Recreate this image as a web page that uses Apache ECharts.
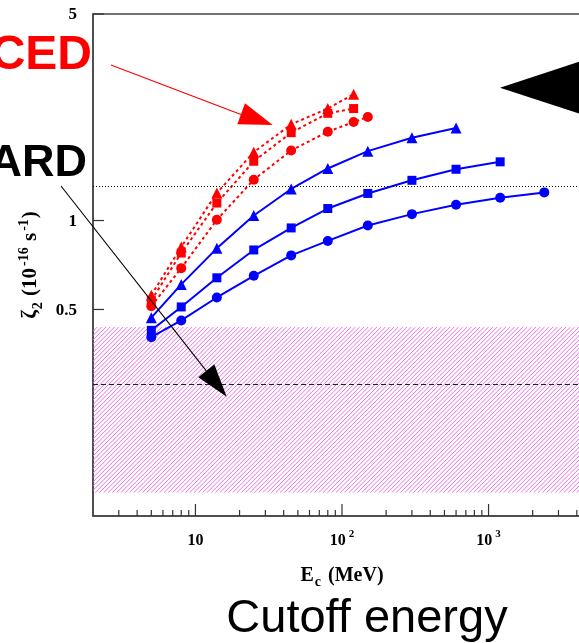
<!DOCTYPE html>
<html><head><meta charset="utf-8">
<script src="https://cdn.jsdelivr.net/npm/echarts@6/dist/echarts.min.js"></script>
<style>html,body{margin:0;padding:0;background:#fff;}#c{width:579px;height:643px;}</style>
</head><body><div id="c"></div>
<script>
// ---- data ----
const xBlue = [5, 8, 14, 25, 45, 80, 150, 300, 600, 1200, 2400];
const blueCircle = [0.403, 0.459, 0.549, 0.650, 0.762, 0.853, 0.962, 1.051, 1.131, 1.195, 1.245];
const blueSquare = [0.425, 0.510, 0.640, 0.795, 0.944, 1.098, 1.235, 1.368, 1.491, 1.58];
const blueTriangle = [0.469, 0.608, 0.805, 1.04, 1.279, 1.50, 1.717, 1.906, 2.055];
const xRed = [5, 8, 14, 25, 45, 80, 120, 150];
const redTriangle = [0.559, 0.814, 1.240, 1.703, 2.116, 2.393, 2.677];
const redSquare = [0.537, 0.776, 1.146, 1.587, 1.983, 2.306, 2.393];
const redCircle = [0.513, 0.690, 1.006, 1.375, 1.726, 1.998, 2.154, 2.240];
const hatchBand = [0.12, 0.436];
const dottedLevel = 1.31;
const dashedLevel = 0.278;
const xRange = [2, 5000];
const yRange = [0.1, 5];
const xMajorTicks = [10, 100, 1000];
const xMinorTicks = [3, 4, 5, 6, 7, 8, 9, 20, 30, 40, 50, 60, 70, 80, 90, 200, 300, 400, 500, 600, 700, 800, 900, 2000, 3000, 4000];
const yTickValues = [0.5, 1, 5];
const yTickLabels = ['0.5', '1', '5'];

function pairs(xs, ys) { return ys.map((y, i) => [xs[i], y]); }

const serif = '"Liberation Serif", "Times New Roman", serif';
const sans = '"Liberation Sans", Arial, sans-serif';
const BLUE = '#0000ff', RED = '#ff0000';

const chart = echarts.init(document.getElementById('c'), null, { renderer: 'canvas' });

function lineSeries(name, xs, ys, color, symbol, dashed) {
  return {
    name, type: 'line', data: pairs(xs, ys), symbol, symbolSize: symbol === 'triangle' ? 11 : (symbol === 'rect' ? 9 : 10),
    lineStyle: { color, width: 2, type: dashed ? [3, 3] : 'solid' },
    itemStyle: { color }, z: dashed ? 4 : 3, silent: true
  };
}

const richTick = {
  b: { fontFamily: serif, fontWeight: 'bold', fontSize: 16, lineHeight: 24, color: '#000' },
  s: { fontFamily: serif, fontWeight: 'bold', fontSize: 11, verticalAlign: 'top', color: '#000', padding: [0, 0, 0, 3] }
};

const option = {
  animation: false,
  grid: { left: 93, top: 14, width: 498, height: 502, outerBoundsMode: 'none', containLabel: false, show: true, borderColor: '#444', borderWidth: 1.5, backgroundColor: 'transparent' },
  xAxis: {
    type: 'log', logBase: 10, min: xRange[0], max: xRange[1],
    axisLine: { show: true, lineStyle: { color: '#444', width: 1.5 } },
    axisTick: { show: false }, splitLine: { show: false }, minorTick: { show: false },
    axisLabel: {
      margin: 13,
      formatter: function (v) {
        const k = Math.log10(v);
        if (Math.abs(k - Math.round(k)) > 1e-6) return '';
        const kk = Math.round(k);
        if (kk === 1) return '{b|10}';
        if (kk >= 2) return '{b|10}{s|' + kk + '}';
        return '';
      },
      rich: richTick
    },
    name: '{b|E}{sub|c}{b| (MeV)}', nameLocation: 'middle', nameGap: 47,
    nameTextStyle: {
      rich: {
        b: { fontFamily: serif, fontWeight: 'bold', fontSize: 20, lineHeight: 26, color: '#000' },
        sub: { fontFamily: serif, fontWeight: 'bold', fontSize: 14, verticalAlign: 'bottom', color: '#000', padding: [0, 2, 0, 1] }
      }
    }
  },
  yAxis: {
    type: 'log', logBase: 10, min: yRange[0], max: yRange[1],
    axisLine: { show: true, lineStyle: { color: '#444', width: 1.5 } },
    axisTick: { show: false }, splitLine: { show: false }, minorTick: { show: false },
    axisLabel: { show: false },
    name: '{b|ζ}{sub|2}{b| (10}{sup|-16}{b| s}{sup|-1}{b|)}', nameLocation: 'middle', nameRotate: 90, nameGap: 48,
    nameTextStyle: {
      rich: {
        b: { fontFamily: serif, fontWeight: 'bold', fontSize: 21, lineHeight: 28, color: '#000' },
        sub: { fontFamily: serif, fontWeight: 'bold', fontSize: 14, verticalAlign: 'bottom', color: '#000', padding: [0, 1, 0, 1] },
        sup: { fontFamily: serif, fontWeight: 'bold', fontSize: 14, verticalAlign: 'top', color: '#000', padding: [0, 1, 0, 2] }
      }
    }
  },
  series: [
    {
      name: 'hatch', type: 'custom', silent: true, clip: true, z: 1,
      data: [hatchBand],
      renderItem: function (params, api) {
        const a = api.coord([xRange[0], api.value(1)]);
        const b = api.coord([xRange[1], api.value(0)]);
        const x0 = a[0], y0 = a[1], x1 = b[0], y1 = b[1];
        const step = 4.3;
        const kids = [];
        for (let k = x0 + y0; k <= x1 + y1; k += step) {
          const ya = Math.max(y0, k - x1), yb = Math.min(y1, k - x0);
          if (yb <= ya) continue;
          kids.push({ type: 'line', shape: { x1: k - ya, y1: ya, x2: k - yb, y2: yb }, style: { stroke: '#e870e8', lineWidth: 1 } });
        }
        return { type: 'group', children: kids };
      }
    },
    {
      name: 'refs', type: 'line', data: [], silent: true,
      markLine: {
        silent: true, symbol: 'none', label: { show: false },
        data: [
          { yAxis: dottedLevel, lineStyle: { color: '#000', width: 1.2, type: [1, 2] } },
          { yAxis: dashedLevel, lineStyle: { color: '#222', width: 1.2, type: [5, 3] } }
        ]
      }
    },
    lineSeries('blue circle', xBlue, blueCircle, BLUE, 'circle', false),
    lineSeries('blue square', xBlue, blueSquare, BLUE, 'rect', false),
    lineSeries('blue triangle', xBlue, blueTriangle, BLUE, 'triangle', false),
    lineSeries('red circle', xRed, redCircle, RED, 'circle', true),
    lineSeries('red square', xRed, redSquare, RED, 'rect', true),
    lineSeries('red triangle', xRed, redTriangle, RED, 'triangle', true),
    {
      name: 'xticks', type: 'custom', silent: true, clip: false, z: 6,
      data: xMajorTicks.map(v => [v, 1]).concat(xMinorTicks.map(v => [v, 0])),
      renderItem: function (params, api) {
        const p = api.coord([api.value(0), yRange[0]]);
        const len = api.value(1) ? 12 : 6;
        return { type: 'line', shape: { x1: p[0], y1: p[1], x2: p[0], y2: p[1] - len }, style: { stroke: '#333', lineWidth: 1.2 } };
      }
    },
    {
      name: 'yticks', type: 'custom', silent: true, clip: false, z: 6,
      data: yTickValues.map((v, i) => [v, i]),
      renderItem: function (params, api) {
        const p = api.coord([xRange[0], api.value(0)]);
        const lab = yTickLabels[api.value(1)];
        return {
          type: 'group', children: [
            { type: 'line', shape: { x1: p[0], y1: p[1], x2: p[0] + 11, y2: p[1] }, style: { stroke: '#333', lineWidth: 1.2 } },
            { type: 'text', x: p[0] - 16, y: p[1] + 1, style: { text: lab, align: 'right', verticalAlign: 'middle', font: 'bold 17px ' + serif, fill: '#000' } }
          ]
        };
      }
    }
  ],
  graphic: [
    { type: 'text', x: 92, y: 56, style: { text: 'CED', align: 'right', verticalAlign: 'middle', font: 'bold 48px ' + sans, fill: RED } },
    { type: 'text', x: 87, y: 164, style: { text: 'ARD', align: 'right', verticalAlign: 'middle', font: 'bold 45px ' + sans, fill: '#000' } },
    { type: 'line', shape: { x1: 111, y1: 65, x2: 241, y2: 114.5 }, style: { stroke: RED, lineWidth: 1.2 }, z: 20 },
    { type: 'polygon', shape: { points: [[272.7, 125], [245, 103.3], [237.3, 124.3]] }, style: { fill: RED }, z: 20 },
    { type: 'line', shape: { x1: 61, y1: 186, x2: 206.3, y2: 370.8 }, style: { stroke: '#000', lineWidth: 1.1 }, z: 20 },
    { type: 'polygon', shape: { points: [[226.7, 396.7], [198.3, 377.3], [214.3, 364.3]] }, style: { fill: '#000' }, z: 20 },
    { type: 'polygon', shape: { points: [[500, 87.7], [600, 54.8], [600, 120.5]] }, style: { fill: '#000' }, z: 20 },
    { type: 'text', x: 367, y: 619, style: { text: 'Cutoff energy', align: 'center', verticalAlign: 'middle', font: '47px ' + sans, fill: '#000' } }
  ]
};
chart.setOption(option);
</script></body></html>
